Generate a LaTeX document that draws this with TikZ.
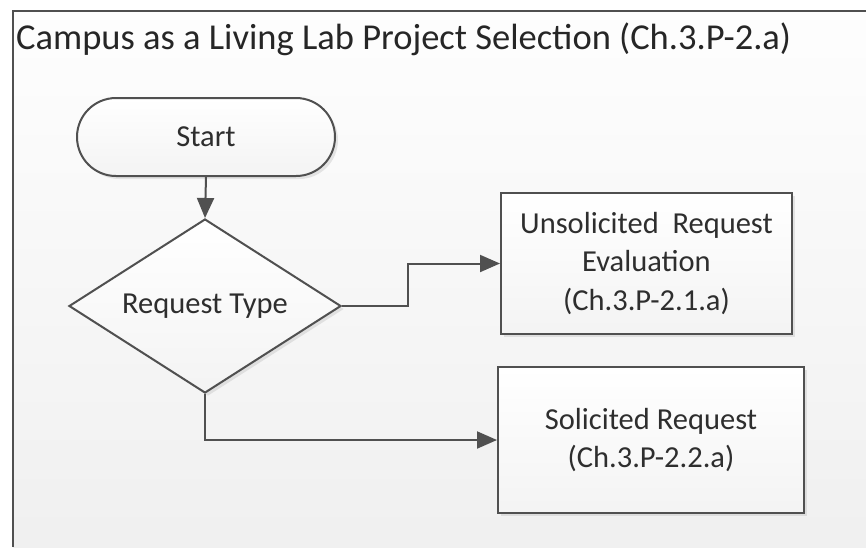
\documentclass[tikz,border=0pt]{standalone}
\usepackage{fontspec}
\setmainfont{Carlito}
\usetikzlibrary{shapes.geometric,shapes.misc,arrows.meta,shadows}
\definecolor{linegray}{HTML}{505050}
\definecolor{textgray}{HTML}{2E2E2E}
\begin{document}
\begin{tikzpicture}[x=1pt,y=-1pt,
  shp/.style={draw=linegray, line width=2pt, top color=white, bottom color=gray!9,
    drop shadow={shadow xshift=3pt, shadow yshift=-3pt, opacity=0.18, fill=gray},
    text=textgray, font=\fontsize{30.5}{38.5}\selectfont, align=center, inner sep=0pt},
  conn/.style={draw=linegray, line width=2pt, -{Triangle[length=20pt,width=17pt]}},
  ]
  \useasboundingbox (0,0) rectangle (866,547);
  % background
  \fill[white] (0,0) rectangle (866,547);
  \shade[top color=gray!1, bottom color=gray!12] (13,11) rectangle (866,547);
  \draw[linegray, line width=2.2pt] (13,547) -- (13,11) -- (866,11);
  \node[anchor=base west, text=black!85, font=\fontsize{36.5}{42}\selectfont, inner sep=0pt] (title) at (16,49)
    {Campus as a Living Lab Project Selection (Ch.3.P-2.a)};
  % nodes
  \node[shp, rounded rectangle, minimum width=258pt, minimum height=78pt] (start) at (206,137) {Start};
  \node[shp, diamond, aspect=1.563, minimum width=272pt, minimum height=174pt] (dec) at (205,306) {Request Type};
  \node[shp, rectangle, minimum width=291pt, minimum height=141pt] (unsol) at (646.5,263.5)
    {Unsolicited\ \ Request\\Evaluation\\(Ch.3.P-2.1.a)};
  \node[shp, rectangle, minimum width=306pt, minimum height=146pt] (sol) at (651,440)
    {Solicited Request\\(Ch.3.P-2.2.a)};
  % connectors
  \draw[conn] (start.south) -- (dec.north);
  \draw[conn] (dec.east) -- ++(66,0) |- (unsol.west);
  \draw[conn] (dec.south) |- (sol.west);
\end{tikzpicture}
\end{document}
